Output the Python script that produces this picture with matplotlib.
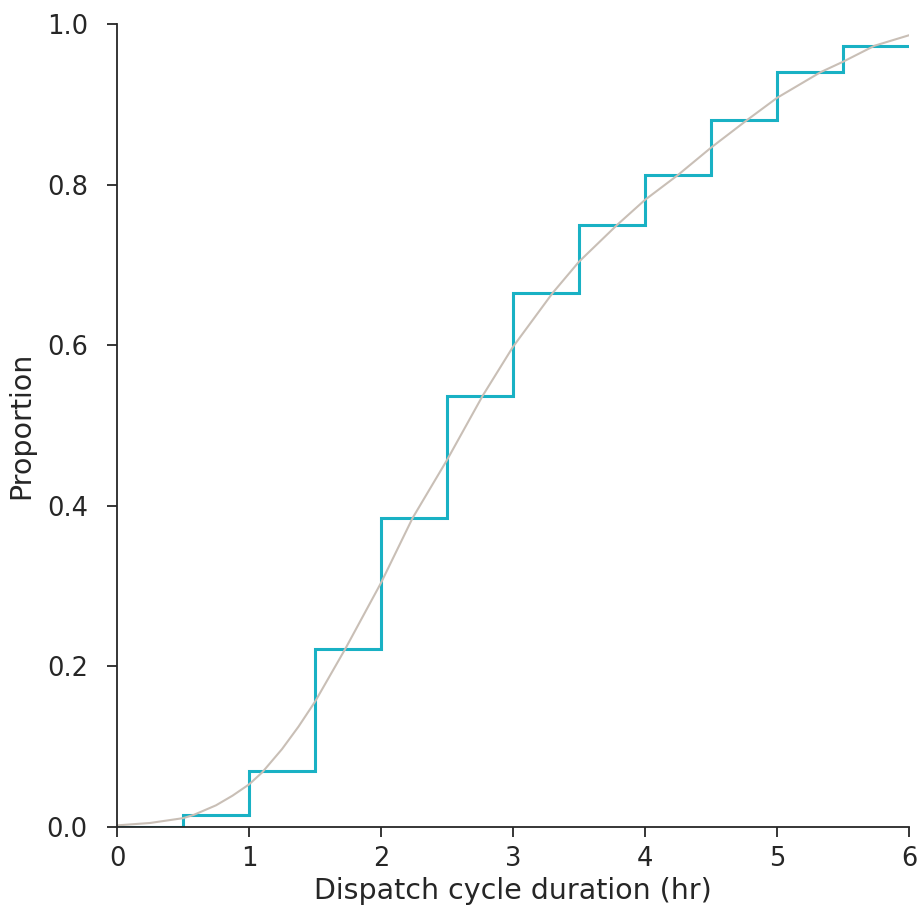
import numpy as np
import matplotlib.pyplot as plt

# Cumulative proportion per half-hour bin
bin_edges = [0, 0.5, 1.0, 1.5, 2.0, 2.5, 3.0, 3.5, 4.0, 4.5, 5.0, 5.5, 6.0]
cum_prop = [0.0, 0.015, 0.070, 0.222, 0.385, 0.537, 0.665, 0.750, 0.812, 0.880, 0.940, 0.973]

# Smooth fitted CDF, sampled from the chart
cdf_x = [0.0, 0.25, 0.5, 0.58, 0.75, 0.875, 1.0, 1.10, 1.25, 1.375, 1.5, 1.73, 2.0, 2.24,
         2.5, 2.77, 3.0, 3.30, 3.5, 3.79, 4.0, 4.25, 4.5, 4.77, 5.0, 5.33, 5.5, 5.74,
         6.0, 6.1]
cdf_y = [0.002, 0.005, 0.011, 0.015, 0.027, 0.039, 0.053, 0.068, 0.097, 0.125, 0.156,
         0.222, 0.304, 0.385, 0.457, 0.537, 0.598, 0.665, 0.704, 0.750, 0.781, 0.812,
         0.846, 0.880, 0.908, 0.940, 0.953, 0.973, 0.986, 0.990]

fig = plt.figure(figsize=(9.22, 9.08), dpi=100)
ax = fig.add_axes([117 / 922, 1 - 827 / 908, 792 / 922, 803 / 908])

ax.stairs(cum_prop, bin_edges, baseline=None, color='#19b1c4', linewidth=2.2)
ax.plot(cdf_x, cdf_y, color='#c9bfb6', linewidth=1.5)

ax.set_xlim(0, 6)
ax.set_ylim(0, 1.0)
ax.set_yticks(np.arange(0, 1.01, 0.2))
ax.set_xlabel('Dispatch cycle duration (hr)', fontsize=20.5, color='#262626', labelpad=3)
ax.set_ylabel('Proportion', fontsize=20.5, color='#262626', labelpad=8)
ax.tick_params(labelsize=18.5, length=7, width=1.3, colors='#262626')
ax.tick_params(axis='x', pad=7)
ax.tick_params(axis='y', pad=14)
for side in ['left', 'bottom']:
    ax.spines[side].set_linewidth(1.3)
    ax.spines[side].set_color('#262626')
ax.spines['top'].set_visible(False)
ax.spines['right'].set_visible(False)

fig.savefig('out.png', dpi=100)
